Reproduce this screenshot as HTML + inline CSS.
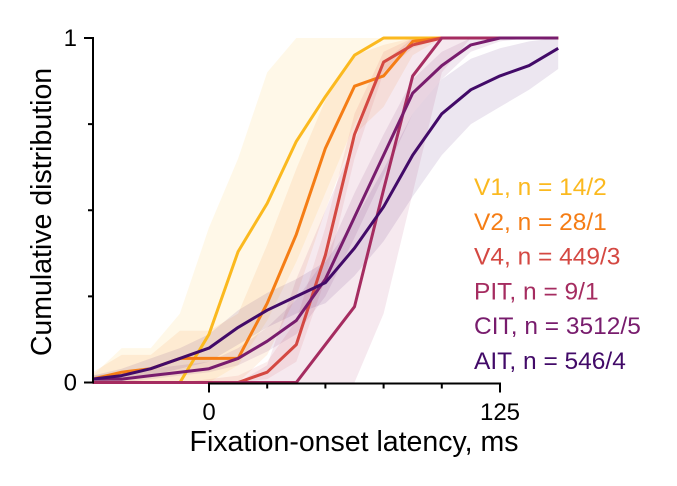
<!DOCTYPE html>
<html><head><meta charset="utf-8"><style>
body{margin:0;background:#fff;}
svg{display:block;font-family:"Liberation Sans",Arial,sans-serif;}
</style></head><body>
<svg id="chart" width="677" height="486" viewBox="0 0 677 486">
<g id="bands"></g>
<g id="lines"></g>
<g id="axes"></g>
<g id="legend"></g>
</svg>
<script>
const times = [-50,-37.5,-25,-12.5,0,12.5,25,37.5,50,62.5,75,87.5,100,112.5,125,137.5,150];
const seriesNames = ["V1","V2","V4","PIT","CIT","AIT"];
const seriesCounts = ["14/2","28/1","449/3","9/1","3512/5","546/4"];
const seriesColors = ["#fbb91f","#f57d15","#d44842","#a52c60","#781c6d","#420a68"];
const v1 = [0,0,0,0,0.14,0.38,0.52,0.70,0.83,0.95,1,1,1,1,1,1,1];
const v2 = [0.01,0.03,0.04,0.07,0.07,0.07,0.23,0.43,0.68,0.86,0.89,0.99,1,1,1,1,1];
const v4 = [0,0,0,0,0,0,0.03,0.11,0.37,0.72,0.93,0.98,1,1,1,1,1];
const pit = [0,0,0,0,0,0,0,0,0.11,0.22,0.56,0.89,1,1,1,1,1];
const cit = [0.01,0.01,0.02,0.03,0.04,0.07,0.12,0.18,0.30,0.48,0.66,0.84,0.92,0.98,1,1,1];
const ait = [0.01,0.02,0.04,0.07,0.10,0.16,0.21,0.25,0.29,0.39,0.51,0.66,0.78,0.85,0.89,0.92,0.97];
const v1Lo = [0,0,0,0,0,0.05,0.18,0.35,0.55,0.75,0.9,1,1,1,1,1,1];
const v1Hi = [0.02,0.1,0.1,0.2,0.45,0.65,0.9,1,1,1,1,1,1,1,1,1,1];
const v2Lo = [0,0,0,0,0,0,0.08,0.25,0.5,0.72,0.8,0.95,1,1,1,1,1];
const v2Hi = [0.03,0.08,0.08,0.15,0.15,0.2,0.4,0.62,0.82,0.95,0.98,1,1,1,1,1,1];
const v4Lo = [0,0,0,0,0,0,0.01,0.06,0.3,0.65,0.9,0.97,1,1,1,1,1];
const v4Hi = [0,0,0,0,0.01,0.02,0.06,0.18,0.45,0.78,0.96,1,1,1,1,1,1];
const pitLo = [0,0,0,0,0,0,0,0,0,0,0.2,0.55,0.9,1,1,1,1];
const pitHi = [0,0,0,0,0,0,0.05,0.3,0.5,0.7,0.93,1,1,1,1,1,1];
const citLo = [0,0,0.01,0.02,0.03,0.05,0.09,0.14,0.25,0.42,0.6,0.78,0.88,0.96,0.99,1,1];
const citHi = [0.02,0.03,0.04,0.05,0.06,0.1,0.16,0.24,0.36,0.55,0.72,0.88,0.96,1,1,1,1];
const aitLo = [0,0.01,0.02,0.04,0.06,0.11,0.16,0.2,0.23,0.31,0.41,0.54,0.66,0.75,0.8,0.85,0.91];
const aitHi = [0.02,0.04,0.07,0.1,0.14,0.21,0.26,0.3,0.35,0.47,0.62,0.78,0.88,0.94,0.97,0.99,1];
const xTickVals = [0,25,50,75,100,125];
const xTickLabels = ["0","","","","","125"];
const yTickVals = [0,0.25,0.5,0.75,1];
const yTickLabels = ["0","","","","1"];

const X0=209, X125=500, Y0=382.5, Y1=38;
function xs(t){return X0+(t/125)*(X125-X0);}
function ys(v){return Y0+(Y1-Y0)*v;}
const NS="http://www.w3.org/2000/svg";
function mk(tag,attrs,parent){const e=document.createElementNS(NS,tag);for(const k in attrs)e.setAttribute(k,attrs[k]);parent.appendChild(e);return e;}

const mains=[v1,v2,v4,pit,cit,ait];
const los=[v1Lo,v2Lo,v4Lo,pitLo,citLo,aitLo];
const his=[v1Hi,v2Hi,v4Hi,pitHi,citHi,aitHi];
const bands=document.getElementById('bands'), lines=document.getElementById('lines');
mains.forEach((s,i)=>{
  let d='M'+times.map((t,j)=>xs(t).toFixed(1)+','+ys(his[i][j]).toFixed(1)).join('L');
  for(let j=times.length-1;j>=0;j--) d+='L'+xs(times[j]).toFixed(1)+','+ys(los[i][j]).toFixed(1);
  d+='Z';
  const b=mk('path',{d:d,fill:seriesColors[i],'fill-opacity':0.1,stroke:'none'},bands);
  
  
});
mains.forEach((s,i)=>{
  const d='M'+times.map((t,j)=>xs(t).toFixed(1)+','+ys(s[j]).toFixed(1)).join('L');
  const l=mk('path',{d:d,fill:'none',stroke:seriesColors[i],'stroke-width':3,'stroke-linejoin':'round'},lines);
  
  
});
const axes=document.getElementById('axes');
mk('line',{x1:93,y1:Y1-1,x2:93,y2:Y0+1,stroke:'#000','stroke-width':2},axes);
mk('line',{x1:X0-1,y1:Y0+1,x2:X125+1,y2:Y0+1,stroke:'#000','stroke-width':2},axes);
xTickVals.forEach((v,i)=>{
  const major=xTickLabels[i]!=='';
  mk('line',{x1:xs(v),y1:Y0+1,x2:xs(v),y2:Y0+(major?10:6),stroke:'#000','stroke-width':2},axes);
  if(major){const t=mk('text',{x:xs(v),y:420,'text-anchor':'middle','font-size':24},axes);t.textContent=xTickLabels[i];
  
  }
});
yTickVals.forEach((v,i)=>{
  const major=yTickLabels[i]!=='';
  mk('line',{x1:93,y1:ys(v),x2:major?84:88,y2:ys(v),stroke:'#000','stroke-width':2},axes);
  if(major){const t=mk('text',{x:77,y:ys(v)+8,'text-anchor':'end','font-size':24},axes);t.textContent=yTickLabels[i];
  
  }
});
const xt=mk('text',{x:354,y:451,'text-anchor':'middle','font-size':28.5},axes);xt.textContent='Fixation-onset latency, ms';


const yt=mk('text',{x:0,y:0,'text-anchor':'middle','font-size':28.5,transform:'translate(51,212) rotate(-90)'},axes);yt.textContent='Cumulative distribution';


const legend=document.getElementById('legend');
seriesNames.forEach((n,i)=>{
  const t=mk('text',{x:474,y:195+i*34.8,'font-size':24.5,fill:seriesColors[i]},legend);
  t.textContent=n+', n = '+seriesCounts[i];
  
  
});
</script>
</body></html>
